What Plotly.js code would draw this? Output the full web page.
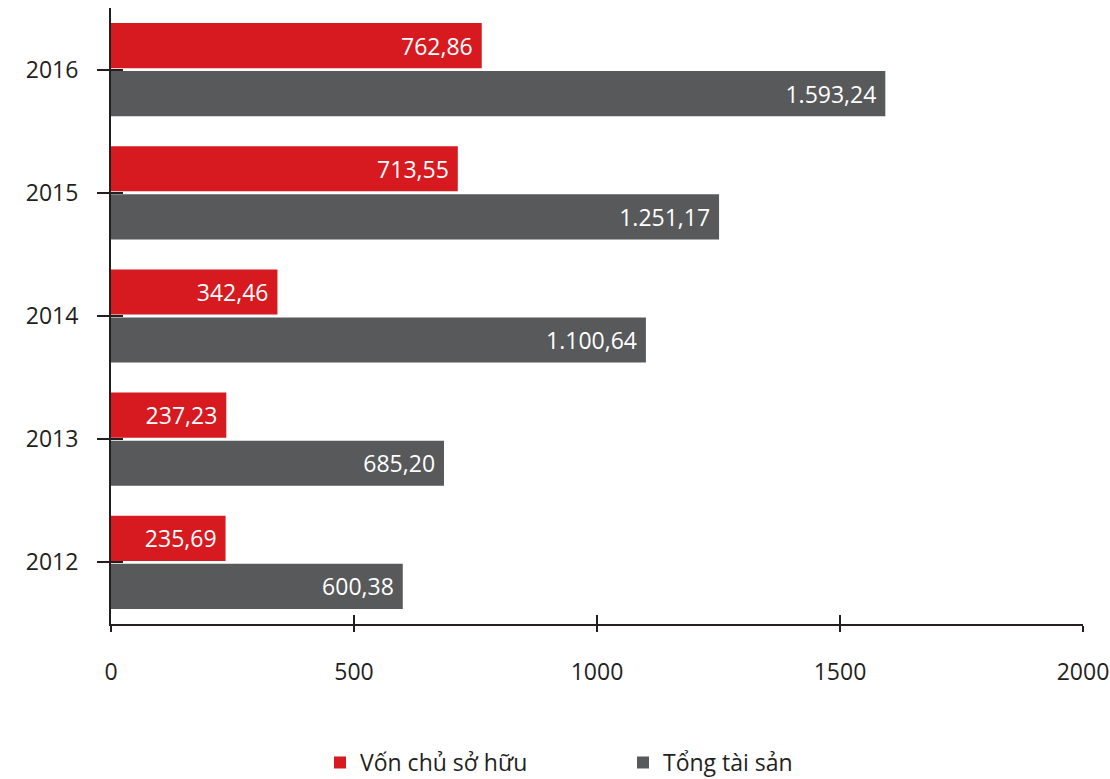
<!DOCTYPE html>
<html>
<head>
<meta charset="utf-8">
<script src="https://cdn.plot.ly/plotly-3.0.1.min.js"></script>
<style>html,body{margin:0;padding:0;background:#fff;}#chart{width:1110px;height:779px;}</style>
</head>
<body>
<div id="chart"></div>
<script>
const years = ['2012', '2013', '2014', '2015', '2016'];
const vonChuSoHuu = [235.69, 237.23, 342.46, 713.55, 762.86];
const tongTaiSan = [600.38, 685.20, 1100.64, 1251.17, 1593.24];
const seriesNames = ['Vốn chủ sở hữu', 'Tổng tài sản'];
const xTicks = [0, 500, 1000, 1500, 2000];

const fmt = v => {
  const parts = v.toFixed(2).split('.');
  const intPart = parts[0].replace(/\B(?=(\d{3})+(?!\d))/g, '.');
  return intPart + ',' + parts[1] + '\u00a0';
};

const FONT = 'Open Sans, Noto Sans, sans-serif';
const DARK = '#231f20';
const idx = years.map((_, i) => i);

const traces = [
  {
    type: 'bar', orientation: 'h', name: seriesNames[1],
    y: idx, x: tongTaiSan,
    text: tongTaiSan.map(fmt), textposition: 'inside', insidetextanchor: 'end',
    textfont: {color: '#ffffff', size: 23, family: FONT},
    marker: {color: '#58595b'}, cliponaxis: false, hoverinfo: 'x'
  },
  {
    type: 'bar', orientation: 'h', name: seriesNames[0],
    y: idx, x: vonChuSoHuu,
    text: vonChuSoHuu.map(fmt), textposition: 'inside', insidetextanchor: 'end',
    textfont: {color: '#ffffff', size: 23, family: FONT},
    marker: {color: '#d71920'}, cliponaxis: false, hoverinfo: 'x'
  },
  {
    type: 'scatter', mode: 'markers', x: [], y: [], xaxis: 'x2', yaxis: 'y2',
    showlegend: false, hoverinfo: 'skip'
  }
];

const layout = {
  width: 1110, height: 779,
  margin: {l: 111, r: 27, t: 8, b: 155, autoexpand: false},
  paper_bgcolor: '#ffffff', plot_bgcolor: '#ffffff',
  font: {family: FONT, color: DARK, size: 23},
  barmode: 'group', bargap: 0.22, bargroupgap: 0.06,
  showlegend: true,
  legend: {
    orientation: 'h', traceorder: 'reversed',
    x: 0.215, xanchor: 'left', y: -0.19, yanchor: 'top',
    font: {size: 23, color: DARK, family: FONT},
    entrywidth: 258, entrywidthmode: 'pixels'
  },
  xaxis: {
    range: [0, 2000], tickvals: xTicks, ticktext: xTicks.map(String),
    showgrid: false, zeroline: false,
    showline: true, linecolor: DARK, linewidth: 2,
    ticks: 'outside', ticklen: 6, tickwidth: 2, tickcolor: DARK,
    ticklabelstandoff: 20,
    tickfont: {size: 23, color: DARK, family: FONT}
  },
  yaxis: {
    range: [-0.5, 4.5], tickvals: idx, ticktext: years,
    showgrid: false, zeroline: false,
    showline: true, linecolor: DARK, linewidth: 2,
    ticks: 'outside', ticklen: 12, tickwidth: 2, tickcolor: DARK,
    ticklabelstandoff: 14,
    tickfont: {size: 23, color: DARK, family: FONT}
  },
  xaxis2: {
    overlaying: 'x', range: [0, 2000], tickvals: xTicks,
    showticklabels: false, showgrid: false, zeroline: false, showline: false,
    ticks: 'inside', ticklen: 9, tickwidth: 2, tickcolor: DARK
  },
  yaxis2: {
    overlaying: 'y', range: [-0.5, 4.5], tickvals: idx,
    showticklabels: false, showgrid: false, zeroline: false, showline: false,
    ticks: 'inside', ticklen: 12, tickwidth: 2, tickcolor: DARK
  }
};

Plotly.newPlot('chart', traces, layout, {displayModeBar: false, staticPlot: true});
</script>
</body>
</html>
